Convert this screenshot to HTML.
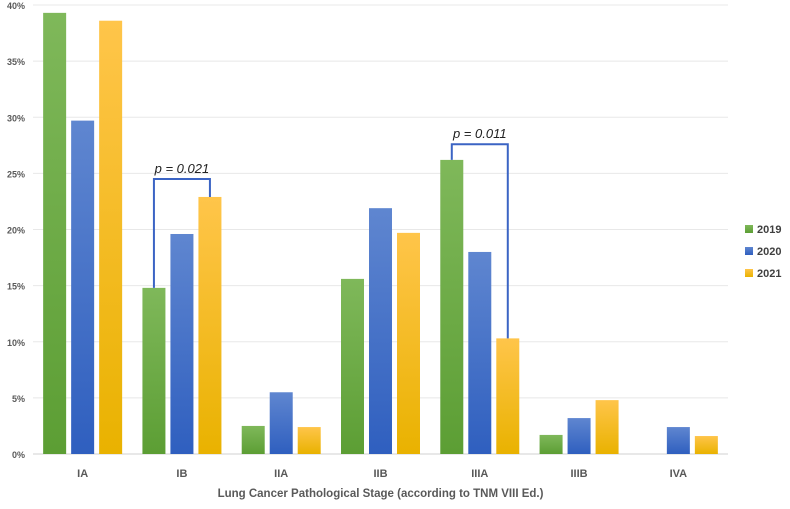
<!DOCTYPE html>
<html><head><meta charset="utf-8"><style>
body{margin:0;background:#fff;font-family:"Liberation Sans",sans-serif}
</style></head><body>
<svg id="c" width="790" height="504">
<defs>
<linearGradient id="g0" x1="0" y1="0" x2="0" y2="1"><stop offset="0" stop-color="#7fb85a"/><stop offset="1" stop-color="#5c9e34"/></linearGradient>
<linearGradient id="g1" x1="0" y1="0" x2="0" y2="1"><stop offset="0" stop-color="#5f86d0"/><stop offset="1" stop-color="#2f5fbf"/></linearGradient>
<linearGradient id="g2" x1="0" y1="0" x2="0" y2="1"><stop offset="0" stop-color="#ffc54a"/><stop offset="1" stop-color="#e9b200"/></linearGradient>
</defs>
</svg>
<script>
const categories=["IA","IB","IIA","IIB","IIIA","IIIB","IVA"];
const series=["2019","2020","2021"];
const v2019=[39.3,14.8,2.5,15.6,26.2,1.7,0];
const v2020=[29.7,19.6,5.5,21.9,18.0,3.2,2.4];
const v2021=[38.6,22.9,2.4,19.7,10.3,4.8,1.6];
const yTicks=[0,5,10,15,20,25,30,35,40];
const annotations=[{cat:1,level:24.5,label:"p = 0.021"},{cat:4,level:27.6,label:"p = 0.011"}];
const vals=[v2019,v2020,v2021];
const svg=document.getElementById('c');const NS="http://www.w3.org/2000/svg";
function el(t,a,p){const e=document.createElementNS(NS,t);for(const k in a)e.setAttribute(k,a[k]);(p||svg).appendChild(e);return e;}
const X0=33,X1=728,Y0=454,Y1=5,MAX=40;
const cw=(X1-X0)/categories.length;
const y=v=>Y0-(v/MAX)*(Y0-Y1);
const cx=i=>X0+cw*(i+0.5);
const bw=23,gap=5;
const bx=(i,s)=>cx(i)+(s-1)*(bw+gap)-bw/2;
yTicks.forEach(t=>{
 const g=el('line',{x1:X0,x2:X1,y1:y(t),y2:y(t),stroke:t===0?'#d0d0d0':'#e8e8e8','stroke-width':1});
 
 
 const l=el('text',{x:25,y:y(t)+4,'text-anchor':'end','font-size':9,'font-weight':'bold',fill:'#595959'});
 l.textContent=t+'%';
 
 
});
categories.forEach((c,i)=>{
 vals.forEach((arr,s)=>{
  if(arr[i]<=0)return;
  const r=el('rect',{x:bx(i,s),y:y(arr[i]),width:bw,height:Y0-y(arr[i]),fill:'url(#g'+s+')'});
  
  
 });
 const t=el('text',{x:cx(i),y:477,'text-anchor':'middle','font-size':11,'font-weight':'bold',fill:'#595959'});
 t.textContent=c;
 
 
});
const xt=el('text',{x:X0+(X1-X0)/2,y:497,'text-anchor':'middle','font-size':11.5,'font-weight':'bold',fill:'#595959'});
xt.textContent='Lung Cancer Pathological Stage (according to TNM VIII Ed.)';


annotations.forEach(a=>{
 const xa=bx(a.cat,0)+bw/2,xb=bx(a.cat,2)+bw/2,yl=y(a.level);
 const p=el('path',{d:`M${xa},${y(vals[0][a.cat])} V${yl} H${xb} V${y(vals[2][a.cat])}`,fill:'none',stroke:'#3b64c4','stroke-width':2});
 
 
 const t=el('text',{x:(xa+xb)/2,y:yl-6,'text-anchor':'middle','font-size':13,'font-style':'italic',fill:'#222'});
 t.textContent=a.label;
 
 
});
series.forEach((s,k)=>{
 const g=el('g',{});
 
 
 el('rect',{x:745,y:225+k*22,width:8,height:8,fill:'url(#g'+k+')'},g);
 const t=el('text',{x:757,y:233+k*22,'font-size':11,'font-weight':'bold',fill:'#404040'},g);
 t.textContent=s;
});
</script>
</body></html>
